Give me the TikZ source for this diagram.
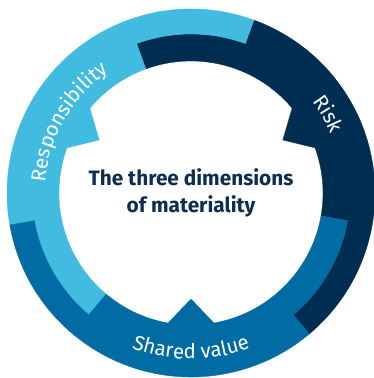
\documentclass[tikz,border=0pt]{standalone}
\usepackage{fontspec}
\setmainfont{Fira Sans}
\usetikzlibrary{decorations.text}
\definecolor{riskblue}{HTML}{002E52}
\definecolor{respblue}{HTML}{42BBE0}
\definecolor{sharedblue}{HTML}{006CA3}
\definecolor{titleblue}{HTML}{0B2D4F}
\tikzset{
  ring part/.style={fill=#1, draw=#1, line width=0.3pt},
  ring label/.style={
    decorate,
    decoration={text along path, text align=center, text color=white,
      text={|\fontsize{20.5}{20}\selectfont|#1}}
  },
  title text/.style={font=\bfseries\fontsize{20.8}{27}\selectfont, text=titleblue, align=center}
}

\begin{document}
\begin{tikzpicture}[x=1pt,y=1pt]
\useasboundingbox (-191,-185) rectangle (182,193);
% three arrow-shaped parts of the ring
\foreach \rot/\col in {0/riskblue,120/respblue,240/sharedblue}{
  \filldraw[ring part=\col, rotate=\rot]
  (-50:184) arc[start angle=-50, end angle=70, radius=184] -- (70:159)
  arc[start angle=70, end angle=110, radius=159] -- (110:132)
  arc[start angle=110, end angle=40, radius=132] -- (30:106) -- (20:132)
  arc[start angle=20, end angle=-10, radius=132] -- (-10:159)
  arc[start angle=-10, end angle=-50, radius=159] -- cycle;
}
% labels along the ring
\path[ring label=Responsibility] (180:146) arc[start angle=180, end angle=120, radius=146];
\path[ring label=Risk] (60:152) arc[start angle=60, end angle=0, radius=152];
\path[ring label=Shared value] (225:166) arc[start angle=225, end angle=315, radius=166];
\node[title text] (title) at (0,0) {The three dimensions\\of materiality};
\end{tikzpicture}
\end{document}
